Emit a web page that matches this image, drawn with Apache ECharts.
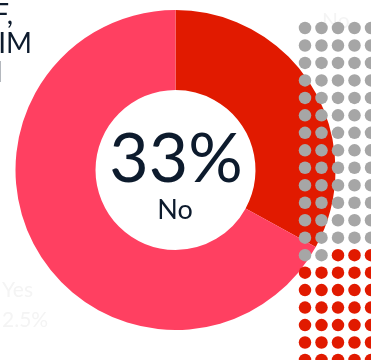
<!DOCTYPE html>
<html>
<head>
<meta charset="utf-8">
<script src="https://cdn.jsdelivr.net/npm/echarts@6/dist/echarts.min.js"></script>
<style>
  html, body { margin: 0; padding: 0; background: #fff; }
  #chart { width: 371px; height: 360px; }
</style>
</head>
<body>
<div id="chart"></div>
<script>
// Donut shares
const sliceNames = ['No', 'Other'];
const sliceValues = [33, 67];
const centerValue = '33%';
const centerLabel = 'No';

// Dot grid: cells filled row by row, grey first then red
const dotCols = 5;
const dotRows = 20;
const greyDots = 67;

// Heading fragments and faint side labels
const headingLines = ['OF,', 'CLAIM', 'WITH'];
const sideLabels = ['Yes', '2.5%'];
const topLabel = 'No';

const RED = '#e11a00';
const PINK = '#ff4061';
const GREY = '#a6a6a6';
const NAVY = '#0d1b2d';
const FAINT = '#f4f4f4';
const FONT = 'Lato, "Open Sans", sans-serif';

const dots = [];
for (let r = 0; r < dotRows; r++) {
  for (let c = 0; c < dotCols; c++) {
    const idx = r * dotCols + c;
    dots.push({ value: [c, r], itemStyle: { color: idx < greyDots ? GREY : RED, opacity: 1 } });
  }
}

const headingRight = [13, 32, 3];
const headingY = [15, 43.5, 73];

const graphics = [];
headingLines.forEach((t, i) => {
  graphics.push({
    type: 'text', x: headingRight[i], y: headingY[i], z: 1,
    style: { text: t, fill: NAVY, font: '400 28px ' + FONT, textAlign: 'right', textVerticalAlign: 'middle' }
  });
});
graphics.push({
  type: 'text', x: 2, y: 290, z: 0,
  style: { text: sideLabels[0], fill: FAINT, font: '400 21px ' + FONT, textAlign: 'left', textVerticalAlign: 'middle' }
});
graphics.push({
  type: 'text', x: 2, y: 320, z: 0,
  style: { text: sideLabels[1], fill: FAINT, font: '400 21px ' + FONT, textAlign: 'left', textVerticalAlign: 'middle' }
});
graphics.push({
  type: 'text', x: 322, y: 21, z: 0,
  style: { text: topLabel, fill: FAINT, font: '400 21px ' + FONT, textAlign: 'left', textVerticalAlign: 'middle' }
});
graphics.push({
  type: 'text', x: 176, y: 160, z: 100,
  style: { text: centerValue, fill: NAVY, font: '400 68px ' + FONT, textAlign: 'center', textVerticalAlign: 'middle' }
});
graphics.push({
  type: 'text', x: 175, y: 210, z: 100,
  style: { text: centerLabel, fill: NAVY, font: '400 27px ' + FONT, textAlign: 'center', textVerticalAlign: 'middle' }
});

const chart = echarts.init(document.getElementById('chart'), null, { renderer: 'canvas' });
chart.setOption({
  animation: false,
  backgroundColor: '#ffffff',
  grid: { left: 305, top: 28, width: 70.4, height: 332.5 },
  xAxis: { type: 'value', min: 0, max: 4, show: false },
  yAxis: { type: 'value', min: 0, max: 19, inverse: true, show: false },
  graphic: graphics,
  series: [
    {
      type: 'pie',
      center: [175.5, 170],
      radius: [80, 160],
      startAngle: 90,
      clockwise: true,
      label: { show: false },
      labelLine: { show: false },
      emphasis: { disabled: true },
      itemStyle: { borderWidth: 0 },
      z: 2,
      data: sliceNames.map((n, i) => ({ name: n, value: sliceValues[i], itemStyle: { color: i === 0 ? RED : PINK } }))
    },
    {
      type: 'scatter',
      symbol: 'circle',
      symbolSize: 12.5,
      clip: false,
      z: 5,
      emphasis: { disabled: true },
      itemStyle: { opacity: 1 },
      data: dots
    }
  ]
});
</script>
</body>
</html>
